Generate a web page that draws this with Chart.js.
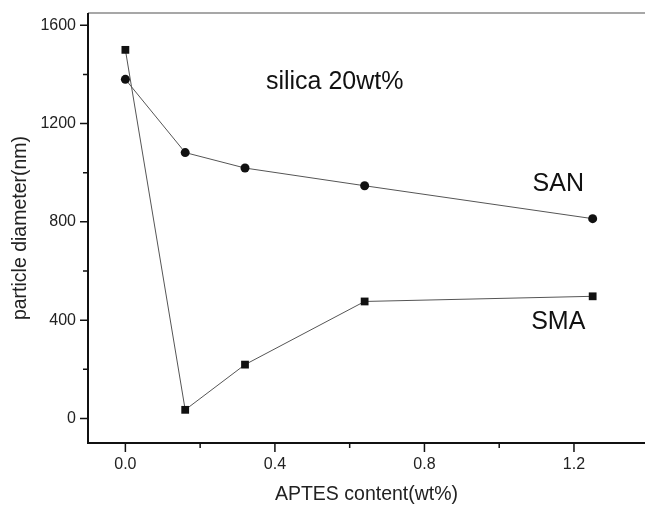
<!DOCTYPE html>
<html>
<head>
<meta charset="utf-8">
<script src="https://cdn.jsdelivr.net/npm/chart.js@4.4.1/dist/chart.umd.min.js"></script>
<style>
  body { margin: 0; background: #fff; }
  #wrap { width: 646px; height: 506px; }
</style>
</head>
<body>
<div id="wrap"><canvas id="chart" width="646" height="506"></canvas></div>
<script>
// 데이터
const aptesContent = [0, 0.16, 0.32, 0.64, 1.25];
const sanDiameter = [1380, 1082, 1019, 947, 813];
const smaDiameter = [1500, 35, 219, 476, 497];

// 눈금
const xMajorTicks = [0, 0.4, 0.8, 1.2];
const xMinorTicks = [0.2, 0.6, 1.0];
const yMajorTicks = [0, 400, 800, 1200, 1600];
const yMinorTicks = [200, 600, 1000, 1400];

// 그림 안의 글자 (데이터 좌표)
const noteTexts = ['silica 20wt%', 'SAN', 'SMA'];
const noteX = [0.56, 1.158, 1.158];
const noteY = [1369, 954, 392];

const FONT = '"Liberation Sans", Arial, sans-serif';

// 축 여백 없애기 (차트 영역 고정)
function fixScale(s, size) {
    if (s.isHorizontal()) s.height = size; else s.width = size;
    s.paddingTop = 0;
    s.paddingBottom = 0;
    s.paddingLeft = 0;
    s.paddingRight = 0;
}

// 축선, 눈금, 글자 그리기
const axesPlugin = {
    id: 'axesPlugin',
    afterDraw: function(chart) {
        const ctx = chart.ctx;
        const a = chart.chartArea;
        const x = chart.scales.x;
        const y = chart.scales.y;
        ctx.save();

        // 위쪽 회색 선
        ctx.strokeStyle = '#8a8a8a';
        ctx.lineWidth = 1.5;
        ctx.beginPath();
        ctx.moveTo(a.left, a.top);
        ctx.lineTo(a.right, a.top);
        ctx.stroke();

        // 왼쪽, 아래 축
        ctx.strokeStyle = '#111';
        ctx.lineWidth = 2;
        ctx.beginPath();
        ctx.moveTo(a.left, a.top);
        ctx.lineTo(a.left, a.bottom);
        ctx.lineTo(a.right, a.bottom);
        ctx.stroke();

        // 눈금
        ctx.lineWidth = 1.5;
        ctx.beginPath();
        xMajorTicks.forEach(v => {
            const px = x.getPixelForValue(v);
            ctx.moveTo(px, a.bottom);
            ctx.lineTo(px, a.bottom + 9);
        });
        xMinorTicks.forEach(v => {
            const px = x.getPixelForValue(v);
            ctx.moveTo(px, a.bottom);
            ctx.lineTo(px, a.bottom + 5);
        });
        yMajorTicks.forEach(v => {
            const py = y.getPixelForValue(v);
            ctx.moveTo(a.left, py);
            ctx.lineTo(a.left - 8, py);
        });
        yMinorTicks.forEach(v => {
            const py = y.getPixelForValue(v);
            ctx.moveTo(a.left, py);
            ctx.lineTo(a.left - 5, py);
        });
        ctx.stroke();

        // 글자
        ctx.fillStyle = '#111';
        ctx.textAlign = 'center';
        ctx.textBaseline = 'middle';
        noteTexts.forEach((t, i) => {
            ctx.font = '25px ' + FONT;
            ctx.fillText(t, x.getPixelForValue(noteX[i]), y.getPixelForValue(noteY[i]));
        });
        ctx.restore();
    }
};

const ctx = document.getElementById('chart').getContext('2d');
new Chart(ctx, {
    type: 'line',
    data: {
        datasets: [{
            label: 'SAN',
            data: aptesContent.map((v, i) => ({ x: v, y: sanDiameter[i] })),
            borderColor: '#555',
            borderWidth: 1,
            backgroundColor: '#111',
            pointBackgroundColor: '#111',
            pointBorderColor: '#111',
            pointStyle: 'circle',
            pointRadius: 4.5,
            pointBorderWidth: 0,
            tension: 0
        }, {
            label: 'SMA',
            data: aptesContent.map((v, i) => ({ x: v, y: smaDiameter[i] })),
            borderColor: '#555',
            borderWidth: 1,
            backgroundColor: '#111',
            pointBackgroundColor: '#111',
            pointBorderColor: '#111',
            pointStyle: 'rect',
            pointRadius: 5.5,
            pointBorderWidth: 0,
            tension: 0
        }]
    },
    options: {
        responsive: false,
        animation: false,
        layout: { autoPadding: false, padding: { top: 13, right: 1, left: 0, bottom: 0 } },
        plugins: {
            legend: { display: false },
            tooltip: { enabled: false }
        },
        scales: {
            x: {
                type: 'linear',
                min: -0.1,
                max: 1.39,
                grid: { display: false, drawTicks: false },
                border: { display: false },
                afterBuildTicks: s => { s.ticks = xMajorTicks.map(v => ({ value: v })); },
                afterFit: s => fixScale(s, 63),
                ticks: {
                    padding: 12,
                    color: '#222',
                    font: { family: FONT, size: 16 },
                    callback: v => v.toFixed(1)
                },
                title: {
                    display: true,
                    text: 'APTES content(wt%)',
                    color: '#222',
                    font: { family: FONT, size: 19.5 },
                    padding: { top: 0, bottom: 0 }
                }
            },
            y: {
                type: 'linear',
                min: -100,
                max: 1650,
                grid: { display: false, drawTicks: false },
                border: { display: false },
                afterBuildTicks: s => { s.ticks = yMajorTicks.map(v => ({ value: v })); },
                afterFit: s => fixScale(s, 88),
                ticks: {
                    padding: 12,
                    color: '#222',
                    font: { family: FONT, size: 16 },
                    callback: v => String(v)
                },
                title: {
                    display: true,
                    text: 'particle diameter(nm)',
                    color: '#222',
                    font: { family: FONT, size: 19.5 },
                    padding: { top: 9, bottom: 0 }
                }
            }
        }
    },
    plugins: [axesPlugin]
});
</script>
</body>
</html>
